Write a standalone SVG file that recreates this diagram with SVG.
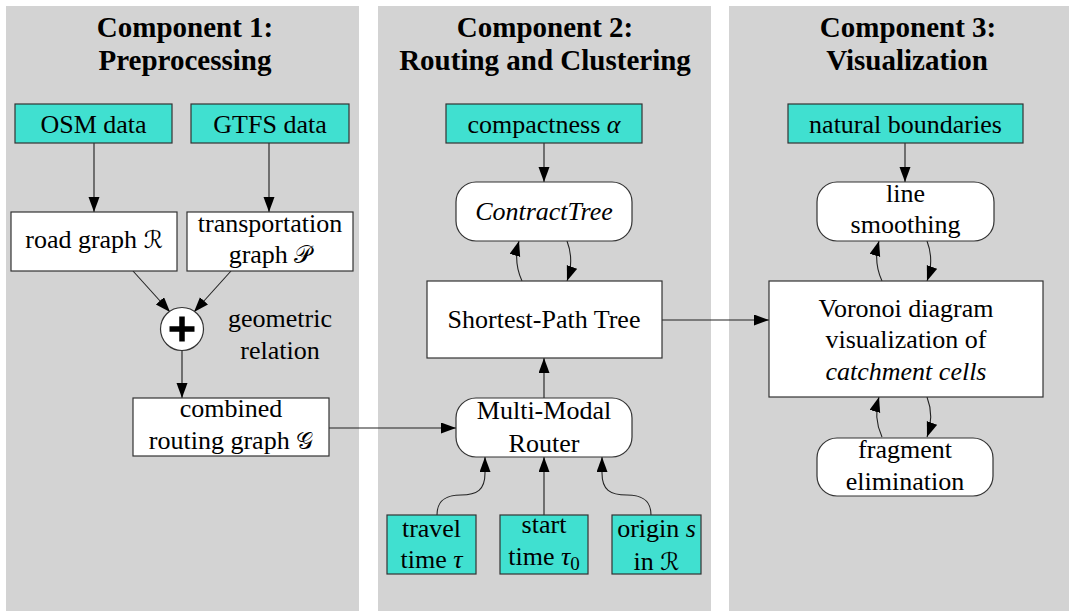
<svg xmlns="http://www.w3.org/2000/svg" width="1069" height="611" viewBox="0 0 1069 611">
  <style>
    .panel { fill: #d3d3d3; }
    .title { font-family: "Liberation Serif", "Times New Roman", serif; font-weight: bold; font-size: 29px; fill: #000; text-anchor: middle; }
    .lbl { font-family: "Liberation Serif", "Times New Roman", serif; font-size: 26px; fill: #000; text-anchor: middle; }
    .it { font-style: italic; }
    .scr { font-family: "DejaVu Serif", "DejaVu Sans", serif; font-size: 24px; }
    .input { fill: #40e0d0; stroke: #333; stroke-width: 1.2; }
    .box { fill: #fff; stroke: #333; stroke-width: 1.2; }
    .edge { fill: none; stroke: #444; stroke-width: 1.4; }
    .thin { fill: none; stroke: #222; stroke-width: 1.1; }
  </style>
  <defs>
    <marker id="arrow" markerUnits="userSpaceOnUse" markerWidth="16" markerHeight="12" refX="15" refY="5.5" orient="auto">
      <path d="M0,0 L15,5.5 L0,11 Z" fill="#000"/>
    </marker>
  </defs>

  <!-- background panels -->
  <rect class="panel" x="6" y="6" width="353" height="605"/>
  <rect class="panel" x="378" y="6" width="333" height="605"/>
  <rect class="panel" x="729" y="6" width="340" height="605"/>

  <!-- panel titles -->
  <text class="title" x="185" y="37">Component 1:</text>
  <text class="title" x="185" y="70">Preprocessing</text>
  <text class="title" x="545" y="37">Component 2:</text>
  <text class="title" x="545" y="70">Routing and Clustering</text>
  <text class="title" x="908" y="37">Component 3:</text>
  <text class="title" x="907" y="70">Visualization</text>

  <!-- connectors -->
  <g id="connectors">
    <line class="edge" x1="94" y1="143" x2="94" y2="212" marker-end="url(#arrow)"/>
    <line class="edge" x1="269" y1="143" x2="269" y2="212" marker-end="url(#arrow)"/>
    <line class="thin" x1="133" y1="271" x2="170" y2="312" marker-end="url(#arrow)"/>
    <line class="thin" x1="231" y1="271" x2="194" y2="312" marker-end="url(#arrow)"/>
    <line class="edge" x1="182" y1="351" x2="182" y2="398" marker-end="url(#arrow)"/>
    <line class="thin" x1="329" y1="428" x2="456" y2="428" marker-end="url(#arrow)"/>

    <line class="edge" x1="544" y1="143" x2="544" y2="182" marker-end="url(#arrow)"/>
    <path class="thin" d="M522,281 C516,268 515,255 519,241" marker-end="url(#arrow)"/>
    <path class="thin" d="M567,241 C572,254 572,267 567,281" marker-end="url(#arrow)"/>
    <line class="edge" x1="544" y1="398" x2="544" y2="358" marker-end="url(#arrow)"/>
    <path class="thin" d="M437,515 C437,500 446,495 461,495 C477,495 485,490 485,473 L485,457" marker-end="url(#arrow)"/>
    <line class="edge" x1="544" y1="515" x2="544" y2="457" marker-end="url(#arrow)"/>
    <path class="thin" d="M651,515 C651,500 642,495 627,495 C610,495 602,490 602,473 L602,457" marker-end="url(#arrow)"/>
    <line class="thin" x1="662" y1="320" x2="769" y2="320" marker-end="url(#arrow)"/>

    <line class="edge" x1="905" y1="143" x2="905" y2="182" marker-end="url(#arrow)"/>
    <path class="thin" d="M882,281 C876,268 875,255 879,241" marker-end="url(#arrow)"/>
    <path class="thin" d="M927,241 C932,254 932,267 927,281" marker-end="url(#arrow)"/>
    <path class="thin" d="M882,437 C876,424 875,411 879,397" marker-end="url(#arrow)"/>
    <path class="thin" d="M927,397 C932,410 932,423 927,437" marker-end="url(#arrow)"/>
  </g>

  <!-- Component 1 nodes -->
  <g id="osm">
    <rect class="input" x="15" y="104" width="157" height="39"/>
    <text class="lbl" x="93.5" y="133">OSM data</text>
  </g>
  <g id="gtfs">
    <rect class="input" x="191" y="104" width="158" height="39"/>
    <text class="lbl" x="270" y="133">GTFS data</text>
  </g>
  <g id="road-graph">
    <rect class="box" x="11" y="212" width="166" height="59"/>
    <text class="lbl" x="94" y="248">road graph <tspan class="scr">ℛ</tspan></text>
  </g>
  <g id="transport-graph">
    <rect class="box" x="187" y="212" width="166" height="59"/>
    <text class="lbl" x="270" y="232">transportation</text>
    <text class="lbl" x="270" y="263">graph <tspan class="scr">𝒫</tspan></text>
  </g>
  <g id="merge">
    <circle cx="182" cy="329" r="21.5" fill="#fff" stroke="#333" stroke-width="1.2"/>
    <path d="M169.5,329 H194.5 M182,316.5 V341.5" stroke="#000" stroke-width="5.5" fill="none"/>
    <text class="lbl" x="280" y="327">geometric</text>
    <text class="lbl" x="280" y="359">relation</text>
  </g>
  <g id="combined-graph">
    <rect class="box" x="133" y="398" width="196" height="58"/>
    <text class="lbl" x="231" y="417">combined</text>
    <text class="lbl" x="231" y="449">routing graph <tspan class="scr">𝒢</tspan></text>
  </g>

  <!-- Component 2 nodes -->
  <g id="compactness">
    <rect class="input" x="446" y="104" width="196" height="39"/>
    <text class="lbl" x="544" y="133">compactness <tspan class="it">α</tspan></text>
  </g>
  <g id="contract-tree">
    <rect class="box" x="456" y="182" width="176" height="59" rx="20"/>
    <text class="lbl it" x="544" y="220">ContractTree</text>
  </g>
  <g id="spt">
    <rect class="box" x="427" y="281" width="235" height="77"/>
    <text class="lbl" x="544" y="328">Shortest-Path Tree</text>
  </g>
  <g id="router">
    <rect class="box" x="456" y="398" width="176" height="59" rx="20"/>
    <text class="lbl" x="544" y="419">Multi-Modal</text>
    <text class="lbl" x="544" y="452">Router</text>
  </g>
  <g id="travel-time">
    <rect class="input" x="387" y="515" width="89" height="59"/>
    <text class="lbl" x="431.5" y="537">travel</text>
    <text class="lbl" x="431.5" y="568">time <tspan class="it">τ</tspan></text>
  </g>
  <g id="start-time">
    <rect class="input" x="500" y="515" width="88" height="59"/>
    <text class="lbl" x="544" y="533">start</text>
    <text class="lbl" x="544" y="565">time <tspan class="it">τ</tspan><tspan font-size="19" dy="5">0</tspan></text>
  </g>
  <g id="origin">
    <rect class="input" x="612" y="515" width="89" height="59"/>
    <text class="lbl" x="656.5" y="537">origin <tspan class="it">s</tspan></text>
    <text class="lbl" x="656.5" y="570">in <tspan class="scr">ℛ</tspan></text>
  </g>

  <!-- Component 3 nodes -->
  <g id="boundaries">
    <rect class="input" x="788" y="104" width="235" height="39"/>
    <text class="lbl" x="905.5" y="133">natural boundaries</text>
  </g>
  <g id="smoothing">
    <rect class="box" x="817" y="182" width="177" height="59" rx="20"/>
    <text class="lbl" x="905.5" y="202">line</text>
    <text class="lbl" x="905.5" y="233">smoothing</text>
  </g>
  <g id="voronoi">
    <rect class="box" x="769" y="281" width="274" height="116"/>
    <text class="lbl" x="906" y="317">Voronoi diagram</text>
    <text class="lbl" x="906" y="348">visualization of</text>
    <text class="lbl it" x="906" y="380">catchment cells</text>
  </g>
  <g id="fragments">
    <rect class="box" x="817" y="438" width="176" height="58" rx="20"/>
    <text class="lbl" x="905" y="458">fragment</text>
    <text class="lbl" x="905" y="490">elimination</text>
  </g>
</svg>
